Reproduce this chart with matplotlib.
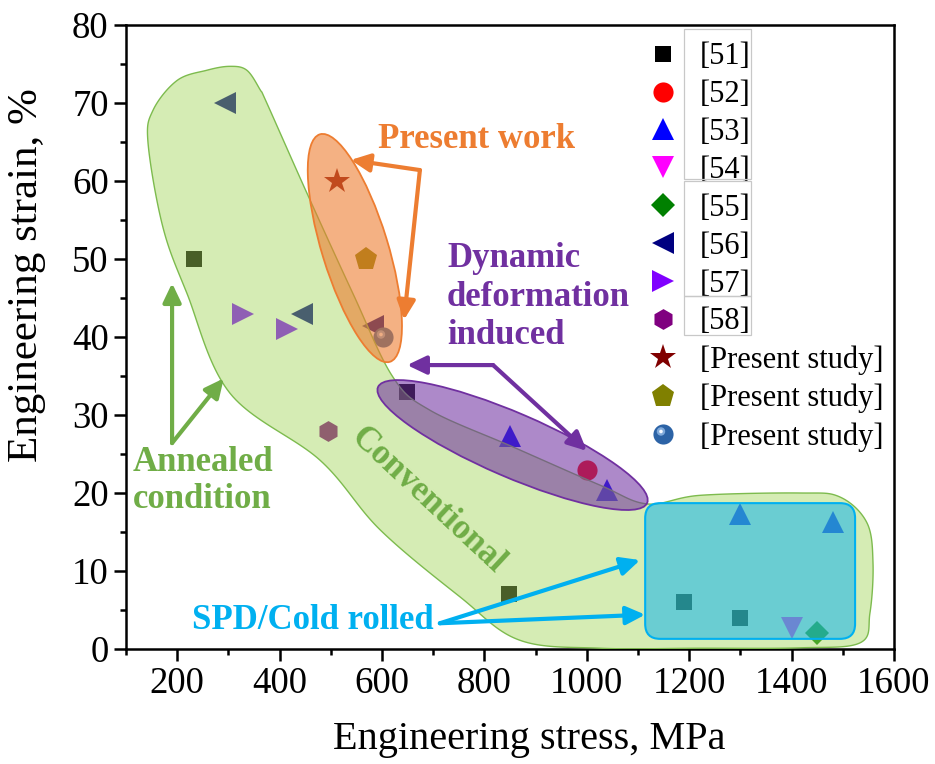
import numpy as np
import matplotlib
matplotlib.use("Agg")
import matplotlib.pyplot as plt
import matplotlib.transforms as mtransforms
from matplotlib.patches import Ellipse, FancyBboxPatch, Polygon, Rectangle
from matplotlib.path import Path

plt.rcParams["font.family"] = ["Liberation Serif", "DejaVu Serif"]

# ---- data: (engineering stress [MPa], engineering strain [%]) per source ----
ref51_stress = [233, 648, 848, 1189, 1300]
ref51_strain = [50, 33, 7, 6, 4]
ref52_stress = [1000]
ref52_strain = [23]
ref53_stress = [850, 1040, 1299, 1480]
ref53_strain = [27.3, 20.4, 17.3, 16.3]
ref54_stress = [1400]
ref54_strain = [2.7]
ref55_stress = [1450]
ref55_strain = [2]
ref56_stress = [293, 443, 582]
ref56_strain = [70, 43, 41.4]
ref57_stress = [329, 414]
ref57_strain = [43, 41]
ref58_stress = [494]
ref58_strain = [28]
present_star_stress = [512]
present_star_strain = [60]
present_pent_stress = [568]
present_pent_strain = [50]
present_ball_stress = [602]
present_ball_strain = [40]

series_labels = ["[51]", "[52]", "[53]", "[54]", "[55]", "[56]", "[57]", "[58]",
                 "[Present study]", "[Present study]", "[Present study]"]

fig = plt.figure(figsize=(9.35, 7.64), dpi=100)
ax = fig.add_axes([126 / 935, 115 / 764, 768 / 935, 624 / 764])
ax.set_xlim(100, 1600)
ax.set_ylim(0, 80)

mk = dict(linestyle="none", zorder=2, markeredgewidth=0)
h51, = ax.plot(ref51_stress, ref51_strain, marker="s", ms=12, color="#000000", **mk)
h52, = ax.plot(ref52_stress, ref52_strain, marker="o", ms=14.5, color="#FF0000", **mk)
h53, = ax.plot(ref53_stress, ref53_strain, marker="^", ms=16, color="#0000FF", **mk)
h54, = ax.plot(ref54_stress, ref54_strain, marker="v", ms=16, color="#FF00FF", **mk)
h55, = ax.plot(ref55_stress, ref55_strain, marker="D", ms=12.5, color="#008000", **mk)
h56, = ax.plot(ref56_stress, ref56_strain, marker="<", ms=16, color="#000080", **mk)
h57, = ax.plot(ref57_stress, ref57_strain, marker=">", ms=16, color="#8000FF", **mk)
h58, = ax.plot(ref58_stress, ref58_strain, marker="h", ms=15, color="#800080", **mk)
h59, = ax.plot(present_star_stress, present_star_strain, marker="*", ms=19, color="#800000", **mk)
h60, = ax.plot(present_pent_stress, present_pent_strain, marker="p", ms=17, color="#808000", **mk)

# glossy ball: dark disc plus an off-centre highlight
h61a, = ax.plot(present_ball_stress, present_ball_strain, marker="o", ms=14.5,
                color="#2C63A6", **mk)
frame = Path([(-1, -1), (1, 1)], [Path.MOVETO, Path.MOVETO])
glow = Path.make_compound_path(frame, Path.circle((-0.25, 0.3), 0.42))
spot = Path.make_compound_path(frame, Path.circle((-0.25, 0.3), 0.18))
h61b, = ax.plot(present_ball_stress, present_ball_strain, marker=glow, ms=14.5,
                color="#7FA9DA", **mk)
h61c, = ax.plot(present_ball_stress, present_ball_strain, marker=spot, ms=14.5,
                color="#F4F8FF", **mk)


def smooth_closed(pts, n=24):
    """Closed Catmull-Rom curve through the given outline points."""
    P = np.asarray(pts, dtype=float)
    N = len(P)
    t = np.linspace(0, 1, n, endpoint=False)[:, None]
    segs = []
    for i in range(N):
        p0, p1, p2, p3 = P[i - 1], P[i], P[(i + 1) % N], P[(i + 2) % N]
        segs.append(0.5 * (2 * p1 + (-p0 + p2) * t
                           + (2 * p0 - 5 * p1 + 4 * p2 - p3) * t ** 2
                           + (-p0 + 3 * p1 - 3 * p2 + p3) * t ** 3))
    return np.vstack(segs)


# "Conventional" region outline in stress-strain space
conventional_outline = [
    (375, 70), (453, 58.5), (543, 45.6), (621, 34.9), (694, 30.6), (856, 25.9),
    (1026, 21.0), (1118, 18.6), (1221, 19.7), (1416, 20.0), (1494, 19.5),
    (1547, 16.2), (1559, 11.0), (1553, 4.6), (1534, 0.8), (1416, 0.15),
    (1221, 0.1), (1026, 0.1), (868, 1.15), (752, 6.7), (596, 15.3), (479, 24.2),
    (303, 32.8), (219, 45.6), (172, 54.1), (143, 64.9), (153, 69.1), (200, 72.9),
    (258, 74.2), (303, 74.7), (336, 74.2), (362, 71.7),
]
ax.add_patch(Polygon(smooth_closed(conventional_outline), closed=True,
                     facecolor=(0.64, 0.835, 0.35, 0.45), edgecolor="#7DBB4E",
                     lw=1.0, zorder=3))


def tilted_ellipse(cx, cy, a_px, b_px, angle, face, edge, z):
    tr = fig.dpi_scale_trans + mtransforms.ScaledTranslation(cx, cy, ax.transData)
    return Ellipse((0, 0), 2 * a_px / 100, 2 * b_px / 100, angle=angle,
                   transform=tr, facecolor=face, edgecolor=edge, lw=1.3, zorder=z)


ax.add_patch(tilted_ellipse(547, 51.4, 119, 33, -72.9,
                            (0.929, 0.490, 0.192, 0.6), "#ED7D31", 4))
ax.add_patch(tilted_ellipse(855, 26.15, 146.5, 32, -23.3,
                            (0.439, 0.188, 0.627, 0.57), "#7030A0", 4))

# SPD / cold-rolled box with rounded corners
px_x = 768 / 1500.0
px_y = 624 / 80.0
ax.add_patch(FancyBboxPatch((1114, 1.3), 1524 - 1114, 18.7 - 1.3,
                            boxstyle="round,pad=0,rounding_size=%g" % (15 / px_x),
                            mutation_aspect=px_x / px_y,
                            facecolor=(0.0, 0.69, 0.94, 0.5), edgecolor="#00B0F0",
                            lw=1.5, zorder=4))


def arrow(start, tip, color):
    ax.annotate("", xy=tip, xytext=start, zorder=6,
                arrowprops=dict(arrowstyle="-|>,head_length=1.15,head_width=0.55",
                                color=color, lw=3, shrinkA=0, shrinkB=0,
                                mutation_scale=10))


orange = "#ED7D31"
purple = "#7030A0"
green = "#70AD47"
cyan = "#00B0F0"

arrow((674, 61.4), (539, 62.7), orange)
arrow((674, 61.4), (643, 42.2), orange)
arrow((817, 36.4), (649, 36.4), purple)
arrow((817, 36.4), (1000, 25.4), purple)
arrow((190, 26.4), (190, 46.9), green)
arrow((190, 26.4), (291, 34.7), green)
arrow((713, 3.3), (1104, 11.4), cyan)
arrow((713, 3.3), (1114, 4.4), cyan)

tk = dict(fontsize=25, fontweight="bold", zorder=7)
ax.text(785, 65.3, "Present work", color=orange, ha="center", va="center", **tk)
ax.text(727, 45.1, "Dynamic\ndeformation\ninduced", color=purple,
        ha="left", va="center", linespacing=1.22, **tk)
ax.text(113, 21.5, "Annealed\ncondition", color=green,
        ha="left", va="center", linespacing=1.15, **tk)
ax.text(690, 19.1, "Conventional", color=green, rotation=-43,
        rotation_mode="anchor", ha="center", va="center", **tk)
ax.text(465, 3.6, "SPD/Cold rolled", color=cyan, ha="center", va="center", **tk)

# axes styling
ax.set_xticks(np.arange(200, 1601, 200))
ax.set_xticks(np.arange(100, 1600, 100), minor=True)
ax.set_yticks(np.arange(0, 81, 10))
ax.set_yticks(np.arange(5, 80, 10), minor=True)
ax.tick_params(which="major", direction="out", length=8.5, width=1.8,
               labelsize=26.5, pad=4, top=False, right=False)
ax.tick_params(which="minor", direction="out", length=4.5, width=1.8,
               top=False, right=False)
for s in ax.spines.values():
    s.set_linewidth(1.8)

ax.set_xlabel("Engineering stress, MPa", fontsize=29)
ax.set_ylabel("Engineering strain, %", fontsize=31)
ax.xaxis.set_label_coords(0.525, -0.115)
ax.yaxis.set_label_coords(-0.104, 0.599)

handles = [h51, h52, h53, h54, h55, h56, h57, h58, h59, h60, (h61a, h61b, h61c)]
leg = ax.legend(handles, series_labels, loc="upper left", bbox_to_anchor=(0.675, 0.972),
                frameon=False, fontsize=22, handlelength=1.2, handletextpad=0.62,
                labelspacing=0.29, borderpad=0, borderaxespad=0, numpoints=1)
leg.set_zorder(8)

# thin grey boxes around groups of reference labels
for y0, y1 in [(0.7532, 0.9936), (0.5657, 0.75), (0.5032, 0.5657)]:
    ax.add_patch(Rectangle((0.7266, y0), 0.8138 - 0.7266, y1 - y0, transform=ax.transAxes,
                           fill=False, edgecolor="#C8C8C8", lw=0.9, zorder=9))

fig.savefig("out.png", dpi=100)
